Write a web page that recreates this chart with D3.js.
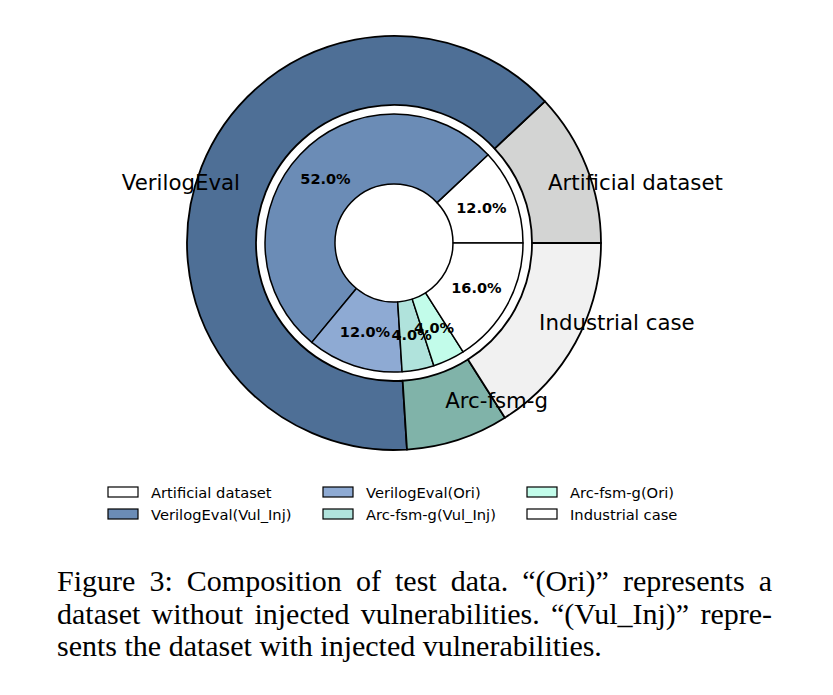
<!DOCTYPE html>
<html>
<head>
<meta charset="utf-8">
<script src="https://cdn.jsdelivr.net/npm/d3@7"></script>
<style>
  html, body { margin: 0; padding: 0; background: #fff; }
  svg { display: block; }
</style>
</head>
<body>
<svg id="chart" width="833" height="695"></svg>
<script>
// ---- data ----
const outerCategories = ["Artificial dataset", "VerilogEval", "Arc-fsm-g", "Industrial case"];
const outerValues = [12, 64, 8, 16];
const outerColors = ["#d3d4d3", "#4e6f96", "#80b3a9", "#f1f1f1"];

const innerCategories = ["Artificial dataset", "VerilogEval(Vul_Inj)", "VerilogEval(Ori)", "Arc-fsm-g(Vul_Inj)", "Arc-fsm-g(Ori)", "Industrial case"];
const innerValues = [12, 52, 12, 4, 4, 16];
const innerColors = ["#ffffff", "#6b8cb6", "#8eaad3", "#b0e3dc", "#c2fcea", "#ffffff"];

const legendOrder = [0, 1, 2, 3, 4, 5]; // column-major, 2 rows x 3 cols

const captionLines = [
  "Figure 3: Composition of test data. \u201C(Ori)\u201D represents a",
  "dataset without injected vulnerabilities. \u201C(Vul_Inj)\u201D repre-",
  "sents the dataset with injected vulnerabilities."
];

// ---- layout ----
const svg = d3.select("#chart");
const cx = 394, cy = 243;
const R_OUT = 207, R_OUT_IN = 138, R_IN = 129, R_HOLE = 59;

const pie = d3.pie().sort(null).startAngle(Math.PI / 2).endAngle(Math.PI / 2 - 2 * Math.PI);

const g = svg.append("g").attr("transform", `translate(${cx},${cy})`);

// outer ring
const outerArc = d3.arc().innerRadius(R_OUT_IN).outerRadius(R_OUT);
const outerPie = pie(outerValues);
g.append("g").selectAll("path").data(outerPie).join("path")
  .attr("d", outerArc)
  .attr("fill", (d, i) => outerColors[i])
  .attr("stroke", "#000").attr("stroke-width", 1.8).attr("stroke-linejoin", "round");

// inner ring
const innerArc = d3.arc().innerRadius(R_HOLE).outerRadius(R_IN);
const innerPie = pie(innerValues);
g.append("g").selectAll("path").data(innerPie).join("path")
  .attr("d", innerArc)
  .attr("fill", (d, i) => innerColors[i])
  .attr("stroke", "#000").attr("stroke-width", 1.5).attr("stroke-linejoin", "round");

// percentage labels (inner)
const total = d3.sum(innerValues);
g.append("g").selectAll("text").data(innerPie).join("text")
  .attr("transform", d => `translate(${innerArc.centroid(d)})`)
  .attr("text-anchor", "middle").attr("dominant-baseline", "central")
  .attr("font-family", "DejaVu Sans, sans-serif").attr("font-weight", "bold")
  .attr("font-size", 14.5).attr("fill", "#000")
  .text(d => (d.value / total * 100).toFixed(1) + "%");

// outer labels
const labelR = 0.8 * R_OUT;
g.append("g").selectAll("text").data(outerPie).join("text")
  .each(function (d, i) {
    const a = (d.startAngle + d.endAngle) / 2;
    const x = Math.sin(a) * labelR, y = -Math.cos(a) * labelR;
    d3.select(this).attr("x", x).attr("y", y)
      .attr("text-anchor", x >= 0 ? "start" : "end");
  })
  .attr("dominant-baseline", "central")
  .attr("font-family", "DejaVu Sans, sans-serif")
  .attr("font-size", 21.3).attr("fill", "#000")
  .text((d, i) => outerCategories[i]);

// legend
const colX = [108, 323, 527];
const rowY = [492, 514];
const leg = svg.append("g");
legendOrder.forEach((idx, k) => {
  const col = Math.floor(k / 2), row = k % 2;
  const x = colX[col], y = rowY[row];
  leg.append("rect").attr("x", x).attr("y", y - 5).attr("width", 30).attr("height", 10)
    .attr("fill", innerColors[idx]).attr("stroke", "#000").attr("stroke-width", 1.2);
  leg.append("text").attr("x", x + 43).attr("y", y)
    .attr("dominant-baseline", "central")
    .attr("font-family", "DejaVu Sans, sans-serif").attr("font-size", 14.7)
    .attr("fill", "#000").text(innerCategories[idx]);
});

// caption (justified lines)
const capLeft = 57, capRight = 772;
const capBase = [591, 624, 656];
const capFont = 30;
const cap = svg.append("g").attr("font-family", "Liberation Serif, Times New Roman, serif")
  .attr("font-size", capFont).attr("fill", "#000");
captionLines.forEach((line, li) => {
  const words = line.split(" ");
  const nodes = words.map(w => cap.append("text").attr("y", capBase[li]).text(w));
  const widths = nodes.map(n => n.node().getComputedTextLength());
  const justify = li < captionLines.length - 1;
  const totalW = d3.sum(widths);
  const space = justify ? (capRight - capLeft - totalW) / (words.length - 1) : capFont * 0.25;
  let x = capLeft;
  nodes.forEach((n, i) => { n.attr("x", x); x += widths[i] + space; });
});
</script>
</body>
</html>
